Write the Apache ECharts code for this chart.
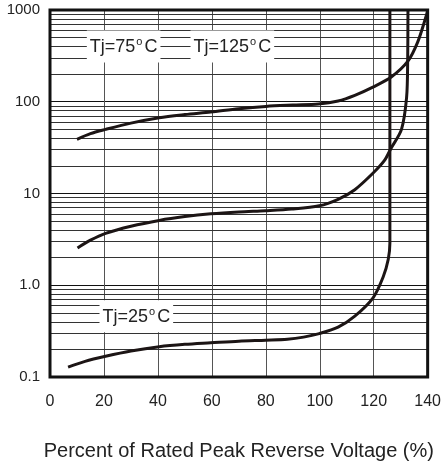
<!DOCTYPE html>
<html>
<head>
<meta charset="utf-8">
<script src="https://cdn.jsdelivr.net/npm/echarts@6/dist/echarts.min.js"></script>
<style>
html,body{margin:0;padding:0;background:#fff;}
#chart{width:444px;height:466px;}
</style>
</head>
<body>
<div id="chart"></div>
<script>
// ---- data ----
const xTicks = [0, 20, 40, 60, 80, 100, 120, 140];
const yTickLabels = ['0.1', '1.0', '10', '100', '1000'];
const minorGridValues = [0.2,0.3,0.4,0.5,0.6,0.7,0.8,0.9, 2,3,4,5,6,7,8,9, 20,30,40,50,60,70,80,90, 200,300,400,500,600,700,800,900];

const curve25Label = 'Tj=25';
const curve25 = [[6.7,0.128],[13,0.148],[20.6,0.168],[30,0.192],[40.5,0.214],[50,0.227],[59.6,0.236],[70,0.246],[80,0.252],[88,0.258],[94,0.272],[99.8,0.297],[106.8,0.349],[113,0.46],[119.7,0.724],[123.5,1.23],[125.4,1.92],[126,2.88],[126,10],[126,1000]];

const curve75Label = 'Tj=75';
const curve75 = [[10,39],[15,45],[20.6,50],[30,58.5],[40.5,67],[50,72.5],[59.6,77.4],[70,84],[80,89],[90,92],[99.5,94.5],[106.8,102],[113,117.5],[119.7,144.5],[126.5,186],[132.6,275],[136.3,447],[139.4,851],[140,1000]];

const curve125Label = 'Tj=125';
const curve125 = [[10.2,2.55],[15,3.1],[20.6,3.68],[30,4.4],[40.5,5.09],[50,5.6],[59.6,6.0],[70,6.3],[79.8,6.5],[89.6,6.77],[99.8,7.34],[106.8,8.65],[113,11.0],[119.7,16.6],[124,22.9],[126.4,31],[130.3,50],[132.2,112],[132.6,296],[132.7,1000]];

// annotation anchors (in data units)
const annotations = [
  {text: curve75Label, coord: [27.3, 400]},
  {text: curve125Label, coord: [67.6, 400]},
  {text: curve25Label, coord: [32, 0.46]}
];

const FONT = "'Liberation Sans', Arial, sans-serif";
const curveColor = '#1c1515';

const chart = echarts.init(document.getElementById('chart'), null, {renderer: 'canvas'});

function curveSeries(data) {
  return {
    type: 'line',
    data: data,
    showSymbol: false,
    symbol: 'none',
    smooth: 0.3,
    lineStyle: {color: curveColor, width: 3},
    z: 5,
    silent: true
  };
}

chart.setOption({
  animation: false,
  backgroundColor: '#fff',
  grid: {left: 50, right: 14, top: 10, bottom: 78, show: true, borderColor: '#111', borderWidth: 3, backgroundColor: 'transparent', z: 10},
  xAxis: {
    type: 'value',
    min: xTicks[0],
    max: xTicks[xTicks.length - 1],
    interval: 20,
    name: 'Percent of Rated Peak Reverse Voltage (%)',
    nameLocation: 'middle',
    nameGap: 64,
    nameTextStyle: {fontFamily: FONT, fontSize: 20, color: '#222'},
    axisLine: {show: false},
    axisTick: {show: false},
    axisLabel: {fontFamily: "'Liberation Sans Narrow', 'Arial Narrow', " + FONT, fontSize: 16, color: '#222', margin: 17},
    splitLine: {show: true, lineStyle: {color: '#555', width: 1}}
  },
  yAxis: {
    type: 'log',
    logBase: 10,
    min: 0.1,
    max: 1000,
    axisLine: {show: false},
    axisTick: {show: false},
    axisLabel: {
      fontFamily: FONT, fontSize: 15, color: '#222', margin: 10,
      formatter: function (v) {
        const i = Math.round(Math.log10(v)) + 1;
        return yTickLabels[i] !== undefined ? yTickLabels[i] : '';
      }
    },
    splitLine: {show: true, lineStyle: {color: '#111', width: 1}}
  },
  series: [
    {
      type: 'line',
      data: [],
      silent: true,
      z: 1,
      markLine: {
        silent: true,
        symbol: 'none',
        animation: false,
        label: {show: false},
        lineStyle: {color: '#333', width: 1, type: 'solid'},
        data: minorGridValues.map(v => ({yAxis: v}))
      },
      markPoint: {
        silent: true,
        symbol: 'rect',
        symbolSize: 1,
        itemStyle: {color: 'rgba(0,0,0,0)'},
        z: 8,
        label: {
          show: true,
          position: 'inside',
          formatter: function (p) { return '{a|' + p.name + '}{s|o}{a|C}'; },
          backgroundColor: '#fff',
          padding: [6, 3, 4, 3],
          rich: {
            a: {fontFamily: FONT, fontSize: 18, color: '#222', lineHeight: 22},
            s: {fontFamily: FONT, fontSize: 11, color: '#222', padding: [0, 2, 0, 1], lineHeight: 22, verticalAlign: 'top'}
          }
        },
        data: annotations.map(a => ({name: a.text, coord: a.coord}))
      }
    },
    curveSeries(curve25),
    curveSeries(curve75),
    curveSeries(curve125)
  ]
});
</script>
</body>
</html>
